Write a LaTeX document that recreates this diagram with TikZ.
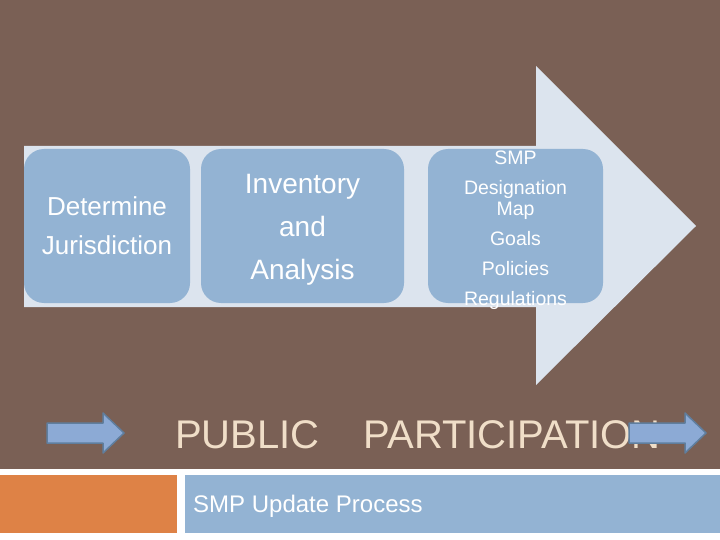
\documentclass[tikz,border=0pt]{standalone}
\usepackage{fontspec}
\setmainfont{Liberation Sans}
\usepackage{xcolor}
\usetikzlibrary{positioning}

\definecolor{slidebrown}{HTML}{7A6055}
\definecolor{stagefill}{HTML}{93B3D3}
\definecolor{flowfill}{HTML}{DCE4EE}
\definecolor{barorange}{HTML}{DE8246}
\definecolor{ppbeige}{HTML}{F0DEC8}
\definecolor{ppedge}{HTML}{5F7E9E}

\begin{document}
\begin{tikzpicture}[
  x=1pt, y=-1pt,
  stagebox/.style={fill=stagefill, rounded corners=20pt, align=center, text=white, inner sep=0pt, minimum height=154pt},
  pparrow/.style={fill=stagefill!95!blue, draw=ppedge, line width=1.5pt, line join=round},
  bar/.style={anchor=north west, inner sep=0pt, minimum height=58pt}]
\useasboundingbox (0,0) rectangle (720,540);
\fill[white] (0,0) rectangle (720,540);
\fill[slidebrown] (0,0) rectangle (720,469);
% big process arrow
\fill[flowfill] (24,146) -- (536,146) -- (536,66) -- (696,226) -- (536,385) -- (536,307) -- (24,307) -- cycle;
\node[stagebox, minimum width=166pt, font=\fontsize{26}{39}\selectfont] (juris) at (107,226) {Determine\\Jurisdiction};
\node[stagebox, minimum width=203pt] (inv) at (302.5,226) {};
\node[align=center, text=white, inner sep=0pt, font=\fontsize{28}{43}\selectfont] (invtext) at ([yshift=-4pt]inv.center) {Inventory\\and\\Analysis};
\node[stagebox, minimum width=175pt] (smp) at (515.5,226) {};
\node[align=center, text=white, inner sep=0pt, font=\fontsize{19.5}{30}\selectfont] (smptext) at ([yshift=-4pt]smp.center) {SMP\\Designation\\[-9pt]Map\\Goals\\Policies\\Regulations};
% public participation
\node[anchor=base west, inner sep=0pt, text=ppbeige, font=\fontsize{40}{40}\selectfont] (public) at (175,448) {PUBLIC\hspace{44pt}PARTICIPATION};
\foreach \x in {47,629}
  \draw[pparrow] (\x,423) -- ++(56,0) -- ++(0,-10) -- ++(21,20) -- ++(-21,20) -- ++(0,-10) -- ++(-56,0) -- cycle;
% footer
\node[bar, fill=barorange, minimum width=177pt] (footl) at (0,475) {};
\node[bar, fill=stagefill, minimum width=535pt] (footr) at (185,475) {};
\node[anchor=west, text=white, font=\fontsize{24}{24}\selectfont, inner sep=0pt] (title) at ([xshift=8pt,yshift=-2pt]footr.west) {SMP Update Process};
\end{tikzpicture}
\end{document}
